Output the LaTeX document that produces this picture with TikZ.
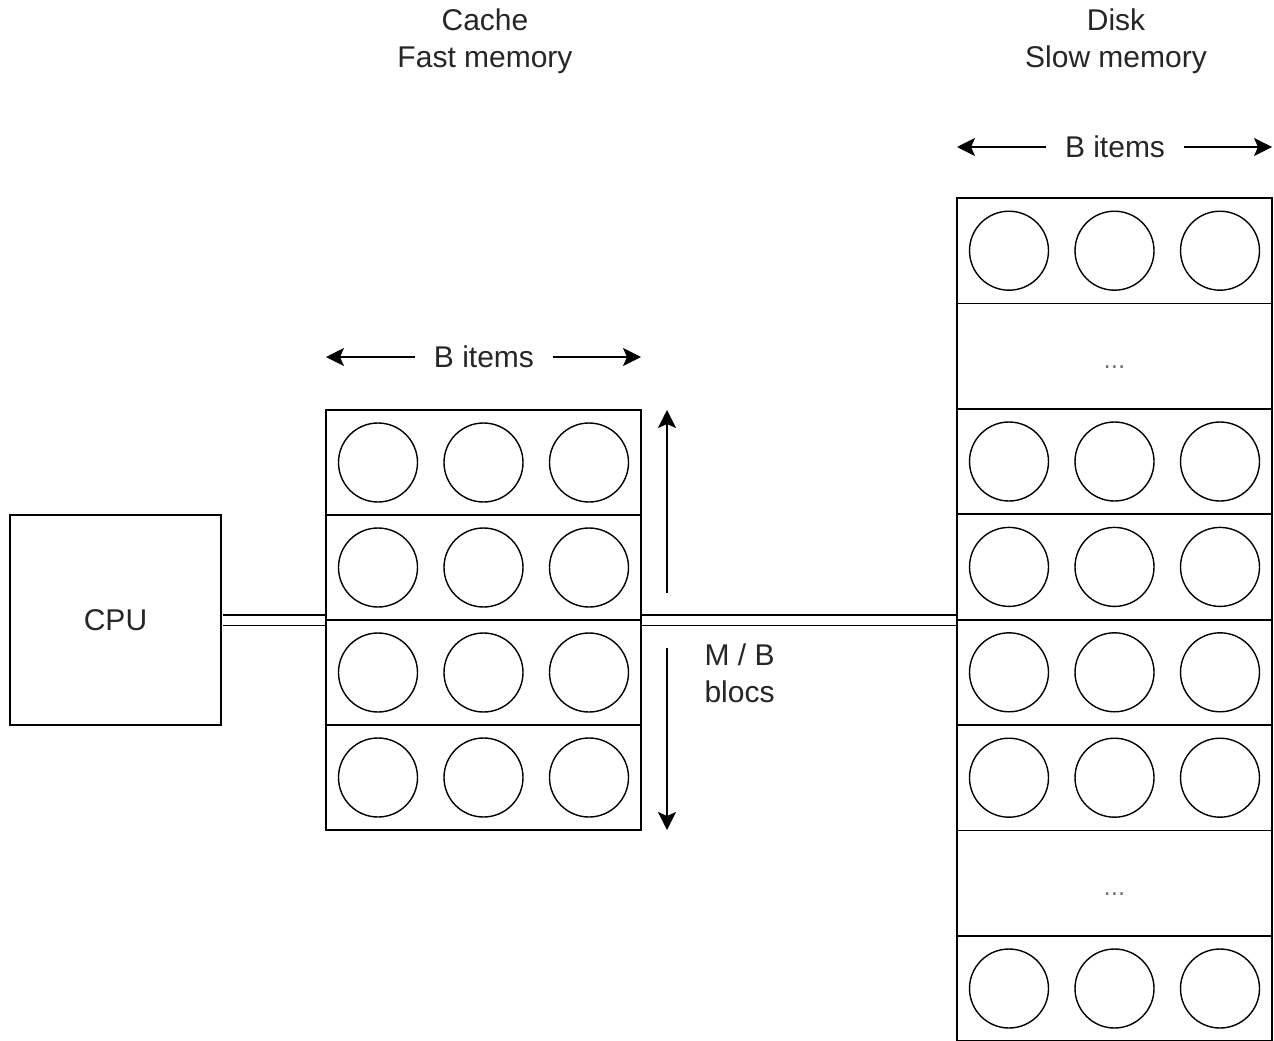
\documentclass[tikz,border=0pt]{standalone}
\usepackage{fontspec}
\setmainfont{Liberation Sans}
\usetikzlibrary{arrows.meta}

\begin{document}
\begin{tikzpicture}[x=1pt, y=-1pt,
    block/.style={draw, line width=1.8pt, minimum width=315pt,
                  minimum height=105pt, inner sep=0pt, outer sep=0pt},
    item/.style={circle, draw, line width=1.4pt, minimum size=79pt,
                 inner sep=0pt},
    flow/.style={-{Stealth[length=18pt, width=18pt, inset=4pt]}, line width=1.8pt},
    link/.style={double, double distance=9pt, line width=1.8pt,
                 shorten <=0.9pt, shorten >=0.9pt},
    note/.style={font=\fontsize{30}{37}\selectfont, text=black!85, align=center},
    gap/.style={font=\fontsize{26}{30}\selectfont, text=black!55},
]
    \useasboundingbox (0,0) rectangle (1274,1041);

    % titles
    \node[note] (cachetitle) at (485,41) {Cache\\Fast memory};
    \node[note] (disktitle) at (1116,41) {Disk\\Slow memory};

    % processor
    \node[draw, line width=1.8pt, minimum width=211pt, minimum height=210pt,
          note] (cpu) at (115.5,620) {CPU};

    % cache blocks
    \node[block] (cache1) at (483.5,462.5) {};
    \node[block] (cache2) at (483.5,567.5) {};
    \node[block] (cache3) at (483.5,672.5) {};
    \node[block] (cache4) at (483.5,777.5) {};
    \foreach \r in {1,...,4}
        \foreach \dx [count=\k] in {-105.5,0,105.5}
            \node[item, xshift=\dx pt] (cacheitem\r\k) at (cache\r) {};

    % disk blocks
    \node[block, minimum height=105.4pt] (disk1) at (1114.5,250.7) {};
    \node[block, minimum height=105.4pt, gap] (disk2) at (1114.5,356.1) {\raisebox{-12pt}[0pt][0pt]{...}};
    \node[block, minimum height=105.4pt] (disk3) at (1114.5,461.5) {};
    \node[block, minimum height=105.4pt] (disk4) at (1114.5,566.9) {};
    \node[block, minimum height=105.4pt] (disk5) at (1114.5,672.3) {};
    \node[block, minimum height=105.4pt] (disk6) at (1114.5,777.7) {};
    \node[block, minimum height=105.4pt, gap] (disk7) at (1114.5,883.1) {\raisebox{-12pt}[0pt][0pt]{...}};
    \node[block, minimum height=105.4pt] (disk8) at (1114.5,988.5) {};
    \foreach \r in {1,3,4,5,6,8}
        \foreach \dx [count=\k] in {-105.5,0,105.5}
            \node[item, xshift=\dx pt] (diskitem\r\k) at (disk\r) {};

    % block widths
    \node[note, inner xsep=19pt] (cachewidth) at (484,357) {B items};
    \draw[flow] (cachewidth.west) -- (cachewidth -| cache1.west);
    \draw[flow] (cachewidth.east) -- (cachewidth -| cache1.east);
    \node[note, inner xsep=19pt] (diskwidth) at (1115,147) {B items};
    \draw[flow] (diskwidth.west) -- (diskwidth -| disk1.west);
    \draw[flow] (diskwidth.east) -- (diskwidth -| disk1.east);

    % cache height
    \coordinate (heighttop) at (667,410);
    \coordinate (heightbot) at (667,830);
    \node[note, align=left, anchor=west] (ratio) at (701,673) {M / B\\blocs};
    \draw[flow] (heighttop |- 0,593) -- (heighttop);
    \draw[flow] (heightbot |- 0,648) -- (heightbot);

    % links
    \draw[link] (cpu.east) -- (cpu.east -| cache2.west);
    \draw[link] (cpu.east -| cache2.east) -- (cpu.east -| disk4.west);

\end{tikzpicture}
\end{document}
